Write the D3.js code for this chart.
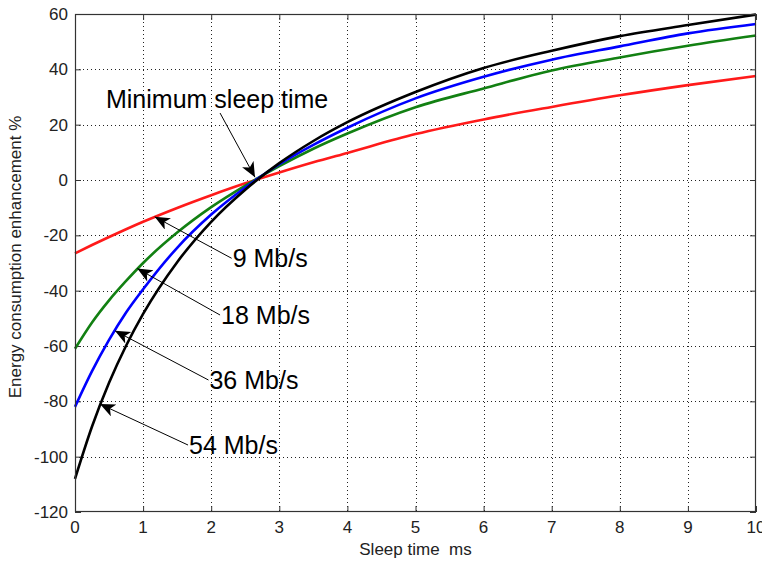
<!DOCTYPE html>
<html>
<head>
<meta charset="utf-8">
<script src="https://cdn.jsdelivr.net/npm/d3@7/dist/d3.min.js"></script>
<style>
  html, body { margin: 0; padding: 0; background: #fff; }
  svg { display: block; }
  text { font-family: "Liberation Sans", Arial, Helvetica, sans-serif; white-space: pre; }
</style>
</head>
<body>
<svg id="chart" width="762" height="562"></svg>
<script>
// ---------- data ----------
const sleepTime = [0, 0.25, 0.5, 0.75, 1, 1.5, 2, 2.5, 3, 3.5, 4, 5, 6, 7, 8, 9, 10];
const rate9  = [-26.5, -23.5, -20.6, -17.8, -15.1, -10.1, -5.5, -1.2, 2.7, 6.4, 9.8, 16.6, 21.9, 26.4, 30.6, 34.3, 37.6];
const rate18 = [-61, -51.5, -43.5, -36.5, -30, -19, -9.8, -2, 5, 11.3, 16.8, 26.3, 33.1, 39.6, 44.3, 48.5, 52.2];
const rate36 = [-82, -69.1, -57.8, -47.9, -39.5, -24.5, -12.5, -2.7, 5.7, 12.7, 18.9, 29.5, 37.3, 43.5, 48.3, 53.0, 56.4];
const rate54 = [-108, -89.1, -73.3, -59.9, -48.4, -29.7, -15.1, -3.5, 6.1, 14.1, 20.9, 31.8, 40.5, 46.7, 52.0, 56.0, 59.8];
const seriesNames  = ["9 Mb/s", "18 Mb/s", "36 Mb/s", "54 Mb/s"];
const seriesColors = ["#ff1a1a", "#128012", "#0000ff", "#000000"];
const xTicks = [0, 1, 2, 3, 4, 5, 6, 7, 8, 9, 10];
const yTicks = [-120, -100, -80, -60, -40, -20, 0, 20, 40, 60];
// annotation arrows (data coords): tip on curve, tail near label
const arrowTipX  = [1.17, 0.915, 0.587, 0.367];
const arrowTipY  = [-13.3, -32, -54.5, -81];
const arrowTailX = [2.30, 2.13, 1.96, 1.66];
const arrowTailY = [-28.3, -48.8, -72.3, -95.8];
const minLabel = "Minimum sleep time";
const minLabelPos = [0.455, 26.2];
const minArrowTail = [2.13, 24.2];
const minArrowTip  = [2.643, 1.0];
const xLabel = "Sleep time  ms";
const yLabel = "Energy consumption enhancement %";

// ---------- layout ----------
const L = 75, R = 756, T = 14, B = 512;
const svg = d3.select("#chart");
const x = d3.scaleLinear().domain([0, 10]).range([L, R]);
const y = d3.scaleLinear().domain([-120, 60]).range([B, T]);

// grid
const grid = svg.append("g").attr("stroke", "#222").attr("stroke-width", 1)
  .attr("stroke-dasharray", "1,3");
grid.selectAll(".gx").data(xTicks.slice(1, -1)).enter().append("line")
  .attr("x1", d => Math.round(x(d)) + 0.5).attr("x2", d => Math.round(x(d)) + 0.5)
  .attr("y1", T).attr("y2", B);
grid.selectAll(".gy").data(yTicks.slice(1, -1)).enter().append("line")
  .attr("y1", d => Math.round(y(d)) + 0.5).attr("y2", d => Math.round(y(d)) + 0.5)
  .attr("x1", L).attr("x2", R);

// inward ticks using d3 axes
const tickLen = 6;
const axB = svg.append("g").attr("transform", `translate(0,${B})`)
  .call(d3.axisTop(x).tickValues(xTicks).tickSize(tickLen).tickFormat(""));
const axT = svg.append("g").attr("transform", `translate(0,${T})`)
  .call(d3.axisBottom(x).tickValues(xTicks).tickSize(tickLen).tickFormat(""));
const axL = svg.append("g").attr("transform", `translate(${L},0)`)
  .call(d3.axisRight(y).tickValues(yTicks).tickSize(tickLen).tickFormat(""));
const axR = svg.append("g").attr("transform", `translate(${R},0)`)
  .call(d3.axisLeft(y).tickValues(yTicks).tickSize(tickLen).tickFormat(""));
[axB, axT, axL, axR].forEach(a => {
  a.select(".domain").remove();
  a.selectAll("line").attr("stroke", "#333");
});

// tick labels
svg.append("g").selectAll("text").data(xTicks).enter().append("text")
  .attr("x", d => x(d)).attr("y", B + 21)
  .attr("text-anchor", "middle").attr("font-size", 17).attr("fill", "#222")
  .text(d => d);
svg.append("g").selectAll("text").data(yTicks).enter().append("text")
  .attr("x", L - 7).attr("y", d => y(d) + 6)
  .attr("text-anchor", "end").attr("font-size", 17).attr("fill", "#222")
  .text(d => d);

// curves
const allSeries = [rate9, rate18, rate36, rate54];
const line = d3.line().x((d, i) => x(sleepTime[i])).y(d => y(d)).curve(d3.curveMonotoneX);
svg.append("g").selectAll("path").data(allSeries).enter().append("path")
  .attr("d", d => line(d)).attr("fill", "none")
  .attr("stroke", (d, i) => seriesColors[i]).attr("stroke-width", 2.6)
  .attr("stroke-linejoin", "round");

// box
svg.append("rect").attr("x", L + 0.5).attr("y", T + 0.5)
  .attr("width", R - L - 1).attr("height", B - T - 1)
  .attr("fill", "none").attr("stroke", "#333").attr("stroke-width", 1.2);

// arrowheads
const defs = svg.append("defs");
defs.append("marker").attr("id", "ah").attr("markerUnits", "userSpaceOnUse")
  .attr("markerWidth", 16).attr("markerHeight", 14)
  .attr("refX", 15).attr("refY", 6.5).attr("orient", "auto")
  .append("path").attr("d", "M0,0 L15,6.5 L0,13 L4,6.5 Z").attr("fill", "#000");

const ann = svg.append("g");
seriesNames.forEach((name, i) => {
  ann.append("line")
    .attr("x1", x(arrowTailX[i])).attr("y1", y(arrowTailY[i]))
    .attr("x2", x(arrowTipX[i])).attr("y2", y(arrowTipY[i]))
    .attr("stroke", "#000").attr("stroke-width", 1).attr("marker-end", "url(#ah)");
  ann.append("text")
    .attr("x", x(arrowTailX[i]) + 1).attr("y", y(arrowTailY[i]) + 9)
    .attr("font-size", 25).attr("fill", "#000").text(name);
});
ann.append("line")
  .attr("x1", x(minArrowTail[0])).attr("y1", y(minArrowTail[1]))
  .attr("x2", x(minArrowTip[0])).attr("y2", y(minArrowTip[1]))
  .attr("stroke", "#000").attr("stroke-width", 1).attr("marker-end", "url(#ah)");
ann.append("text")
  .attr("x", x(minLabelPos[0])).attr("y", y(minLabelPos[1]))
  .attr("font-size", 25).attr("fill", "#000").text(minLabel);

// axis labels
svg.append("text").attr("x", (L + R) / 2).attr("y", 555)
  .attr("text-anchor", "middle").attr("font-size", 17).attr("fill", "#222")
  .text(xLabel);
svg.append("text").attr("transform", "translate(21,257) rotate(-90)")
  .attr("text-anchor", "middle").attr("font-size", 17).attr("fill", "#222")
  .text(yLabel);
</script>
</body>
</html>
